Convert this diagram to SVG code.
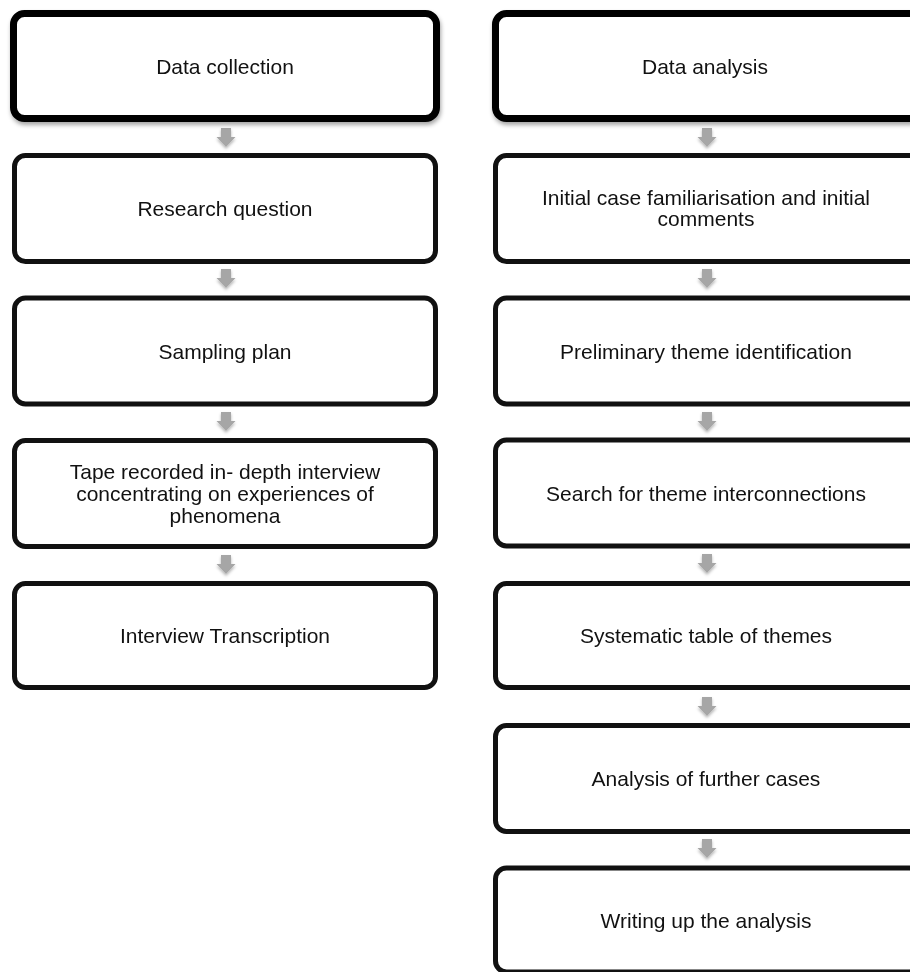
<svg xmlns="http://www.w3.org/2000/svg" width="910" height="972" viewBox="0 0 910 972">
<defs>
<filter id="hs" x="-5%" y="-10%" width="110%" height="130%">
<feDropShadow dx="1" dy="3" stdDeviation="2" flood-color="#000" flood-opacity="0.35"/>
</filter>
<filter id="as" x="-50%" y="-50%" width="200%" height="200%">
<feDropShadow dx="0" dy="2" stdDeviation="1.5" flood-color="#000" flood-opacity="0.3"/>
</filter>
<path id="arr" d="M-5,0 h10 v9 h4.5 l-9.5,10 l-9.5,-10 h4.5 z"/>
</defs>
<style>
.box{fill:#fff;stroke:#111;stroke-width:5}
.hdr{fill:#fff;stroke:#000;stroke-width:7}
.t{font-family:"Liberation Sans",Arial,sans-serif;font-size:21px;fill:#111;text-anchor:middle}
.a{fill:#a6a6a6}
</style>
<rect width="910" height="972" fill="#fff"/>
<g id="connectors" filter="url(#as)">
<use href="#arr" class="a" x="226" y="128"/>
<use href="#arr" class="a" x="226" y="269"/>
<use href="#arr" class="a" x="226" y="412"/>
<use href="#arr" class="a" x="226" y="555"/>
<use href="#arr" class="a" x="707" y="128"/>
<use href="#arr" class="a" x="707" y="269"/>
<use href="#arr" class="a" x="707" y="412"/>
<use href="#arr" class="a" x="707" y="554"/>
<use href="#arr" class="a" x="707" y="697"/>
<use href="#arr" class="a" x="707" y="839"/>
</g>
<g id="data-collection">
<rect class="hdr" x="13.5" y="13.5" width="423" height="105" rx="11" filter="url(#hs)"/>
<text class="t" x="225" y="73.5">Data collection</text>
</g>
<g id="research-question">
<rect class="box" x="14.5" y="155.5" width="421" height="106" rx="11"/>
<text class="t" x="225" y="216">Research question</text>
</g>
<g id="sampling-plan">
<rect class="box" x="14.5" y="298" width="421" height="106" rx="11"/>
<text class="t" x="225" y="358.5">Sampling plan</text>
</g>
<g id="tape-recorded">
<rect class="box" x="14.5" y="440.5" width="421" height="106" rx="11"/>
<text class="t" x="225" y="479">Tape recorded in- depth interview</text>
<text class="t" x="225" y="501">concentrating on experiences of</text>
<text class="t" x="225" y="523">phenomena</text>
</g>
<g id="interview-transcription">
<rect class="box" x="14.5" y="583.5" width="421" height="104" rx="11"/>
<text class="t" x="225" y="643">Interview Transcription</text>
</g>
<g id="data-analysis">
<rect class="hdr" x="495.5" y="13.5" width="425" height="105" rx="11" filter="url(#hs)"/>
<text class="t" x="705" y="73.5">Data analysis</text>
</g>
<g id="initial-case">
<rect class="box" x="495.5" y="155.5" width="425" height="106" rx="11"/>
<text class="t" x="706" y="205">Initial case familiarisation and initial</text>
<text class="t" x="706" y="226">comments</text>
</g>
<g id="preliminary-theme">
<rect class="box" x="495.5" y="298" width="425" height="106" rx="11"/>
<text class="t" x="706" y="358.5">Preliminary theme identification</text>
</g>
<g id="search-interconnections">
<rect class="box" x="495.5" y="440" width="425" height="106" rx="11"/>
<text class="t" x="706" y="500.5">Search for theme interconnections</text>
</g>
<g id="systematic-table">
<rect class="box" x="495.5" y="583.5" width="425" height="104" rx="11"/>
<text class="t" x="706" y="643">Systematic table of themes</text>
</g>
<g id="further-cases">
<rect class="box" x="495.5" y="725.5" width="425" height="106" rx="11"/>
<text class="t" x="706" y="786">Analysis of further cases</text>
</g>
<g id="writing-up">
<rect class="box" x="495.5" y="868" width="425" height="104" rx="11"/>
<text class="t" x="706" y="928">Writing up the analysis</text>
</g>
</svg>
